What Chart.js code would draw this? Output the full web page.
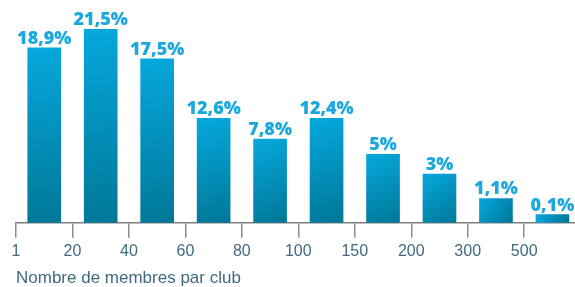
<!DOCTYPE html>
<html>
<head>
<meta charset="utf-8">
<script src="https://cdn.jsdelivr.net/npm/chart.js@4.4.1/dist/chart.umd.min.js"></script>
<style>
html, body { margin: 0; padding: 0; background: #fff; }
#wrap { width: 575px; height: 287px; }
</style>
</head>
<body>
<div id="wrap"><canvas id="c"></canvas></div>
<script>
const tickLabels = ['1', '20', '40', '60', '80', '100', '150', '200', '300', '500'];
const shares = [18.9, 21.5, 17.5, 12.6, 7.8, 12.4, 5, 3, 1.1, 0.1];
// bars in the original are not to scale, these are the heights as drawn
const barHeights = [19.4, 21.5, 18.2, 11.6, 9.3, 11.6, 7.6, 5.4, 2.7, 0.9];

const axisText = '#3f6a7e';

function barFill(ctx) {
  const chart = ctx.chart;
  if (!chart.chartArea || !ctx.parsed) return '#0596c4';
  const xs = chart.scales.x, ys = chart.scales.y;
  const top = ys.getPixelForValue(ctx.parsed.y);
  const base = ys.getPixelForValue(0);
  const cx = xs.getPixelForValue(ctx.parsed.x);
  const g = chart.ctx.createLinearGradient(cx - 16, top, cx + 16, base);
  g.addColorStop(0, '#06a8dd');
  g.addColorStop(1, '#007797');
  return g;
}

const valueLabels = {
  id: 'valueLabels',
  afterDraw(chart) {
    const c = chart.ctx;
    const meta = chart.getDatasetMeta(0);
    c.save();
    c.font = '800 18px "Open Sans"';
    c.fillStyle = '#1aa8de';
    c.textAlign = 'center';
    c.textBaseline = 'alphabetic';
    meta.data.forEach((bar, i) => {
      c.fillText(String(shares[i]).replace('.', ',') + '%', bar.x, bar.y - 4);
    });
    c.restore();
  }
};

new Chart(document.getElementById('c'), {
  type: 'bar',
  data: {
    datasets: [{
      data: barHeights.map((h, i) => ({ x: i + 0.5, y: h })),
      backgroundColor: barFill,
      barThickness: 33,
      borderWidth: 0
    }]
  },
  options: {
    responsive: true,
    maintainAspectRatio: false,
    animation: false,
    layout: { padding: { top: 29, left: 16, right: 0, bottom: 0 } },
    plugins: { legend: { display: false }, tooltip: { enabled: false } },
    scales: {
      x: {
        type: 'linear',
        min: 0,
        max: 9.9,
        offset: false,
        afterBuildTicks: s => { s.ticks = tickLabels.map((t, i) => ({ value: i })); },
        ticks: {
          callback: v => tickLabels[v],
          color: axisText,
          font: { family: 'Liberation Sans', size: 16 },
          padding: 4,
          maxRotation: 0,
          autoSkip: false
        },
        grid: { offset: false, drawOnChartArea: false, drawTicks: true, tickLength: 15, color: '#8c8c8c', lineWidth: 1.5 },
        border: { color: '#7f7f7f', width: 1.5 },
        title: {
          display: true,
          text: 'Nombre de membres par club',
          align: 'start',
          color: axisText,
          font: { family: 'Liberation Sans', size: 17, lineHeight: 1 },
          padding: { top: 5, bottom: 0 }
        }
      },
      y: { display: false, min: 0, max: 21.5 }
    }
  },
  plugins: [valueLabels]
});
</script>
</body>
</html>
